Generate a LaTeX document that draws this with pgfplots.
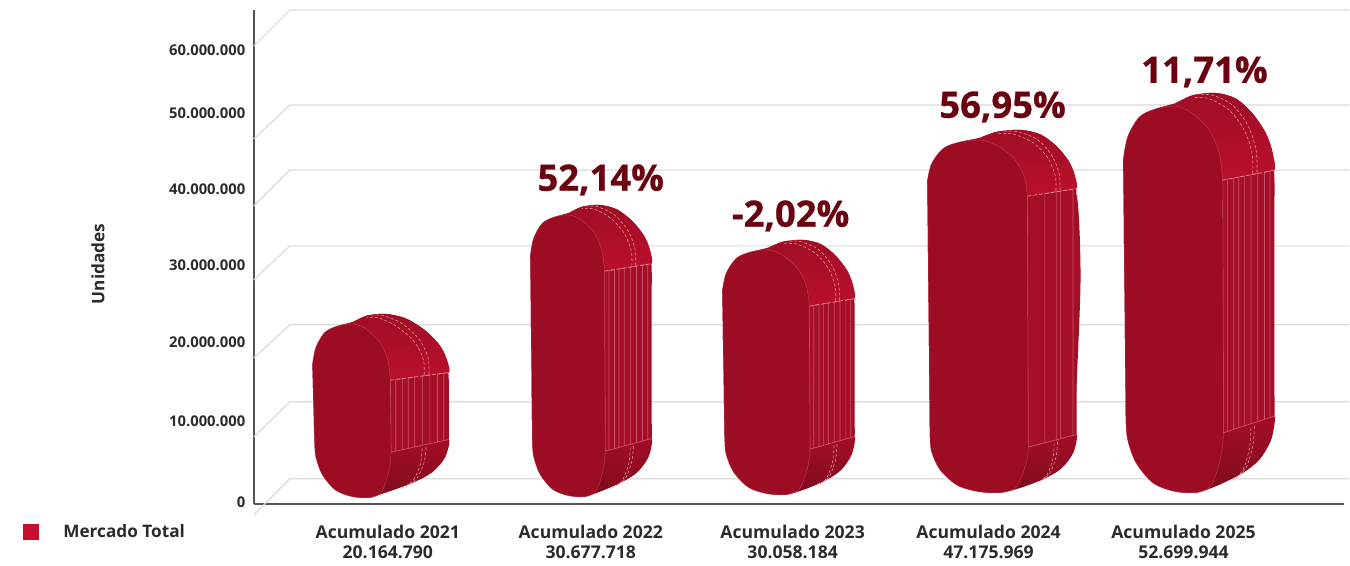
\documentclass[border=0pt]{standalone}
\usepackage{pgfplots}
\usepackage{pgfplotstable}
\usepackage{fontspec}
\pgfplotsset{compat=1.18}
\setmainfont{Open Sans}
\newfontfamily\pctfont{Open Sans}[BoldFeatures={FakeBold=0.7}]
\definecolor{frontc}{HTML}{9C0C23}
\definecolor{sidec}{HTML}{A50E27}
\definecolor{capdark}{HTML}{A00D25}
\definecolor{capbright}{HTML}{BC102D}
\definecolor{lowdark}{HTML}{7E0A1C}
\definecolor{lowmid}{HTML}{A50E27}
\definecolor{seam}{HTML}{E98C9C}
\definecolor{gridc}{HTML}{DADADA}
\definecolor{axisc}{HTML}{555555}
\definecolor{pct}{HTML}{6A0210}
\definecolor{txt}{HTML}{2B2B2B}
\definecolor{legc}{HTML}{C8102E}
% outline tables: u = share of bar width, a = 1 anchored to top, 0 to bottom, d = offset
\pgfplotstableread{
u a d
.004 1 -67.3
.033 1 -44
.11 1 -24
.22 1 -15.7
.352 1 -10
.462 1 -2.3
.615 1 0
.747 1 -5.7
.857 1 -20.7
.945 1 -40.7
.989 1 -60.7
1 1 -87.3
1 .9 -70.9
1 .8 -54.5
1 .6 -21.7
1 .4 11.1
1 .2 43.9
1 .1 60.3
1 0 76.7
.978 0 53.3
.901 0 33.3
.791 0 20
.615 0 6.7
.462 0 0
.33 0 1.7
.198 0 10
.088 0 30
.033 0 53.3
.022 0 73.3
.020 .1 59.2
.018 .2 45.1
.015 .4 17.1
.011 .6 -11.1
.008 .8 -39.1
.006 .9 -53.3
.004 1 -67.3
}\tOuter
\pgfplotstableread{
u a d
.352 1 -10
.462 1 -2.3
.615 1 0
.747 1 -5.7
.857 1 -20.7
.945 1 -40.7
.989 1 -60.7
1 1 -77.3
.9 1 -80.2
.8 1 -83.2
.7 1 -86.1
.6 1 -88
.5 1 -60
.45 1 -30
.352 1 -10
}\tCap
\pgfplotstableread{
u a d
.6 0 60
.7 0 61.8
.8 0 66.8
.9 0 71.7
1 0 76.7
.978 0 53.3
.901 0 33.3
.791 0 20
.615 0 6.7
.462 0 0
.45 0 20
.6 0 60
}\tLow
\pgfplotstableread{
u a d
.004 1 -67.3
.033 1 -44
.11 1 -24
.22 1 -15.7
.352 1 -13.3
.462 1 -20.7
.571 1 -37.3
.637 1 -60.7
.659 1 -87.3
.6595 .9 -72.3
.660 .8 -57.2
.661 .6 -27.1
.662 .4 3.1
.663 .2 33.2
.6635 .1 48.3
.664 0 63.3
.659 0 46.7
.626 0 23.3
.571 0 5
.462 0 0
.33 0 1.7
.198 0 10
.088 0 30
.033 0 53.3
.022 0 73.3
.020 .1 59.2
.018 .2 45.1
.015 .4 17.1
.011 .6 -11.1
.008 .8 -39.1
.006 .9 -53.3
.004 1 -67.3
}\tFront
\pgfplotstableread{
u a d
.659 1 -87.3
.664 0 60
1 0 76.7
.971 0 75.3
.971 1 -78.2
.934 1 -79.2
.934 0 73.4
.89 0 71.2
.89 1 -80.5
.846 1 -81.8
.846 0 69
.802 0 66.9
.802 1 -83.1
.765 1 -84.2
.765 0 65
.732 0 63.4
.732 1 -85.2
.692 1 -86.3
.692 0 61.4
}\tPanel
\pgfplotstableread{
u a d
.659 1 -87.3
.664 0 60
1 0 76.7
.975 0 75.5
.975 1 -78
.89 1 -80.5
.89 0 71.2
.86 0 69.7
.86 1 -81.4
.78 1 -83.8
.78 0 65.8
}\tPanelB
\pgfplotstableread{
u a d
.659 1 -87.3
1 1 -77.3
}\tPanelTop
\pgfplotstableread{
u a d
.857 1 -80.7
.853 1 -60.7
.802 1 -37.3
.703 1 -17.3
.571 1 -5.7
.462 1 -4.7
}\tSeamA
\pgfplotstableread{
u a d
.885 1 -79.7
.88 1 -58
.83 1 -34
.73 1 -13
.6 1 -2.5
.5 1 -1.5
}\tSeamB
\pgfplotstableread{
u a d
.868 0 66.7
.857 0 46.7
.813 0 25
.747 0 15
}\tSeamC
\pgfplotstableread{
u a d
.845 0 65
.835 0 44
.79 0 22
.72 0 12
}\tSeamD
% #1 left, #2 width, #3 top, #4 bottom, #5 cap scale, #6 panel table, #7 share of the front face relative to the template
\newcommand{\capsule}[7]{%
 \addplot[smooth,fill=sidec,draw=none,forget plot] table[x expr={#1+#2*(\thisrow{u}<.665 ? \thisrow{u}*#7 : 1-(1-\thisrow{u})*(1-.665*#7)/.335)}, y expr={\thisrow{a}*#3+(1-\thisrow{a})*#4+#5*\thisrow{d}}] {\tOuter};
 \addplot[smooth,top color=capdark,bottom color=capbright,draw=none,forget plot] table[x expr={#1+#2*(\thisrow{u}<.665 ? \thisrow{u}*#7 : 1-(1-\thisrow{u})*(1-.665*#7)/.335)}, y expr={\thisrow{a}*#3+(1-\thisrow{a})*#4+#5*\thisrow{d}}] {\tCap};
 \addplot[smooth,top color=lowmid,bottom color=lowdark,draw=none,forget plot] table[x expr={#1+#2*(\thisrow{u}<.665 ? \thisrow{u}*#7 : 1-(1-\thisrow{u})*(1-.665*#7)/.335)}, y expr={\thisrow{a}*#3+(1-\thisrow{a})*#4+#5*\thisrow{d}}] {\tLow};
 \addplot[seam,opacity=.55,line width=.35pt,forget plot] table[x expr={#1+#2*(\thisrow{u}<.665 ? \thisrow{u}*#7 : 1-(1-\thisrow{u})*(1-.665*#7)/.335)}, y expr={\thisrow{a}*#3+(1-\thisrow{a})*#4+#5*\thisrow{d}}] {#6};
 \addplot[seam,dash pattern=on 2pt off 1pt,line width=.35pt,forget plot] table[x expr={#1+#2*(\thisrow{u}<.665 ? \thisrow{u}*#7 : 1-(1-\thisrow{u})*(1-.665*#7)/.335)}, y expr={\thisrow{a}*#3+(1-\thisrow{a})*#4+#5*\thisrow{d}}] {\tPanelTop};
 \addplot[smooth,seam,dash pattern=on 1.5pt off 1pt,line width=.3pt,forget plot] table[x expr={#1+#2*(\thisrow{u}<.665 ? \thisrow{u}*#7 : 1-(1-\thisrow{u})*(1-.665*#7)/.335)}, y expr={\thisrow{a}*#3+(1-\thisrow{a})*#4+#5*\thisrow{d}}] {\tSeamA};
 \addplot[smooth,seam,dash pattern=on 1.5pt off 1pt,line width=.3pt,forget plot] table[x expr={#1+#2*(\thisrow{u}<.665 ? \thisrow{u}*#7 : 1-(1-\thisrow{u})*(1-.665*#7)/.335)}, y expr={\thisrow{a}*#3+(1-\thisrow{a})*#4+#5*\thisrow{d}}] {\tSeamB};
 \addplot[smooth,seam,dash pattern=on 1.5pt off 1pt,line width=.3pt,forget plot] table[x expr={#1+#2*(\thisrow{u}<.665 ? \thisrow{u}*#7 : 1-(1-\thisrow{u})*(1-.665*#7)/.335)}, y expr={\thisrow{a}*#3+(1-\thisrow{a})*#4+#5*\thisrow{d}}] {\tSeamC};
 \addplot[smooth,seam,dash pattern=on 1.5pt off 1pt,line width=.3pt,forget plot] table[x expr={#1+#2*(\thisrow{u}<.665 ? \thisrow{u}*#7 : 1-(1-\thisrow{u})*(1-.665*#7)/.335)}, y expr={\thisrow{a}*#3+(1-\thisrow{a})*#4+#5*\thisrow{d}}] {\tSeamD};
 \addplot[smooth,fill=frontc,draw=seam,draw opacity=.35,line width=.25pt,forget plot] table[x expr={#1+#2*(\thisrow{u}<.665 ? \thisrow{u}*#7 : 1-(1-\thisrow{u})*(1-.665*#7)/.335)}, y expr={\thisrow{a}*#3+(1-\thisrow{a})*#4+#5*\thisrow{d}}] {\tFront};
}
\begin{document}
\begin{tikzpicture}[x=1pt,y=1pt]
\begin{axis}[
  scale only axis,
  at={(254*0.5pt,57*0.5pt)},anchor=origin,
  width=545.5pt,height=247pt,
  xmin=254,xmax=1345,ymin=57,ymax=551,
  clip=false,
  axis x line=bottom,axis y line=left,
  axis line style={-,draw=axisc,line width=1pt},
  major tick length=0pt,
  xtick={388,591,793,989,1184},
  xticklabels={{Acumulado 2021\\20.164.790},{Acumulado 2022\\30.677.718},{Acumulado 2023\\30.058.184},{Acumulado 2024\\47.175.969},{Acumulado 2025\\52.699.944}},
  xticklabel style={align=center,font=\fontsize{8.8}{10}\selectfont\bfseries,text=txt,yshift=-7pt},
  ytick={60,141,220,297,373,449,512},
  yticklabels={0,10.000.000,20.000.000,30.000.000,40.000.000,{50.000.000\hspace{2pt}},{60.000.000\hspace{2pt}}},
  yticklabel style={font=\fontsize{7.4}{9}\selectfont\bfseries,text=txt,xshift=-.8pt,yshift=-.5pt},
]
% grid: back wall and side wall
\addplot[gridc,line width=.6pt,forget plot] coordinates {(254,515) (290,551) (1350,551)};
\addplot[gridc,line width=.6pt,forget plot] coordinates {(254,422) (290,456) (1350,456)};
\addplot[gridc,line width=.6pt,forget plot] coordinates {(254,355) (290,391) (1350,391)};
\addplot[gridc,line width=.6pt,forget plot] coordinates {(254,281) (290,315) (1350,315)};
\addplot[gridc,line width=.6pt,forget plot] coordinates {(254,203) (290,236) (1350,236)};
\addplot[gridc,line width=.6pt,forget plot] coordinates {(254,124) (290,159) (1350,159)};
\addplot[gridc,line width=.6pt,forget plot] coordinates {(254,46) (290,82) (1350,82)};
% bulge on the side of the fourth capsule
\addplot[smooth,fill=sidec,draw=none,forget plot] coordinates {(1068,368) (1077,366) (1080,330) (1081,280) (1079,220) (1075,140) (1072,122) (1068,122)};
% capsules: left, width, top, bottom, cap scale, panel, front share
\capsule{312}{137}{247}{63}{.76}{\tPanel}{.87}
\capsule{530}{122}{356}{64}{.76}{\tPanel}{.93}
\capsule{722}{133}{321}{66}{.76}{\tPanel}{1}
\capsule{927}{150}{431}{68}{.76}{\tPanelB}{1.02}
\capsule{1123}{152}{468}{68}{1}{\tPanel}{1}
% legend marker
\addplot[only marks,mark=square*,mark size=3.7pt,color=legc,forget plot] coordinates {(31,29)};
\path (axis cs:0,0) (axis cs:1350,561);
\node[anchor=west,inner sep=0pt,font=\fontsize{8.6}{10}\selectfont\bfseries,text=txt] at (axis cs:63,30) {Mercado Total};
\node[rotate=90,font=\fontsize{8.6}{10}\selectfont\bfseries,text=txt] at (axis cs:98,297) {Unidades};
\node[font=\fontsize{18.2}{20}\selectfont\pctfont\bfseries,text=pct] at (axis cs:601,381) {52,14\%};
\node[font=\fontsize{18.2}{20}\selectfont\pctfont\bfseries,text=pct] at (axis cs:791,345) {-2,02\%};
\node[font=\fontsize{18.2}{20}\selectfont\pctfont\bfseries,text=pct] at (axis cs:1003,454) {56,95\%};
\node[font=\fontsize{18.2}{20}\selectfont\pctfont\bfseries,text=pct] at (axis cs:1205,489) {11,71\%};
\end{axis}
\end{tikzpicture}
\end{document}
